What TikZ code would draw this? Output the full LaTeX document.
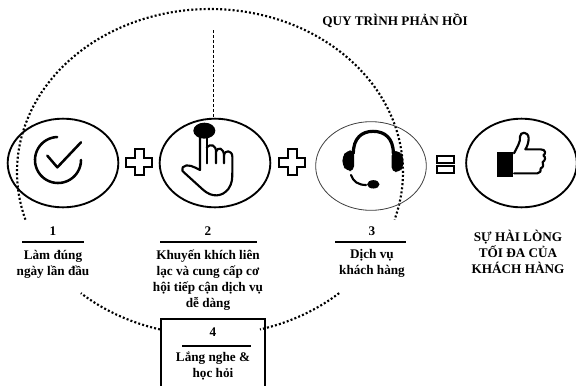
\documentclass[tikz,border=0pt]{standalone}
\usepackage{fontspec}
\setmainfont{Liberation Serif}
\usetikzlibrary{shapes.geometric}
\tikzset{
  x=0.75pt,y=-0.75pt,
  lab/.style={font=\bfseries\fontsize{9.9}{12}\selectfont,align=center,anchor=center,inner sep=0pt},
  rulel/.style={line width=1.5pt},
  oval/.style={draw,line width=1.4pt,ellipse,minimum width=83pt,minimum height=66.5pt,inner sep=0pt},
  thinoval/.style={draw=black!75,line width=0.6pt,ellipse,minimum width=83pt,minimum height=66.5pt,inner sep=0pt},
  dots/.style={line width=1.6pt,dash pattern=on 1.5pt off 1.6pt},
  icon/.style={line width=1.6pt,line cap=round,line join=round},
  sym/.style={line width=1.5pt,fill=white,line join=miter},
}
\newcommand{\zo}[2]{({#1/3},{90+#2/3})}
\newcommand{\zt}[2]{({290+#1/3},{90+#2/3})}
\begin{document}
\begin{tikzpicture}
\useasboundingbox (0,0) rectangle (576,386);
\fill[white] (0,0) rectangle (576,386);
% feedback loop
\draw[dots] plot[domain=163:377,samples=150] ({210+193*cos(\x)},{172+163*sin(\x)});
\draw[dots] plot[domain=105:132,samples=40] ({210+193*cos(\x)},{172+163*sin(\x)});
\draw[dots] plot[domain=48:75,samples=40] ({210+193*cos(\x)},{172+163*sin(\x)});
% ovals
\node[oval] (c1) at (63,163) {};
\node[oval] (c2) at (215,163) {};
\node[thinoval] (c3) at (371,166) {};
\node[oval] (c4) at (521.5,163) {};
\coordinate (dtop) at (213,30);
\draw[line width=0.55pt,dash pattern=on 2.2pt off 1.5pt] (dtop) -- (c2.north -| dtop);
% plus signs
\foreach \cx in {139,292}{
 \draw[sym,shift={(\cx,162)}] (-4.5,-13)--(4.5,-13)--(4.5,-4.5)--(13,-4.5)--(13,4.5)--(4.5,4.5)--(4.5,13)--(-4.5,13)--(-4.5,4.5)--(-13,4.5)--(-13,-4.5)--(-4.5,-4.5)--cycle;
}
% equals
\draw[sym] (437,156) rectangle (454,163);
\draw[sym] (437,166) rectangle (454,173);
% check icon
\draw[icon,line width=1.9pt] plot[domain=0:268,samples=60] ({58+23*cos(\x)},{160+23*sin(\x)});
\draw[icon,line width=1.9pt] \zo{142}{197} -- \zo{172}{232} -- \zo{243}{157};
% hand icon
\fill \zo{613}{122} ellipse [x radius=11,y radius=8];
\draw[icon] \zo{600}{140} -- \zo{600}{240} .. controls \zo{585}{232} and \zo{560}{218} .. \zo{548}{232} .. controls \zo{543}{240} and \zo{548}{245} .. \zo{555}{250} -- \zo{610}{300} .. controls \zo{635}{322} and \zo{665}{322} .. \zo{685}{297} .. controls \zo{697}{280} and \zo{697}{265} .. \zo{697}{245} -- \zo{697}{200} .. controls \zo{697}{180} and \zo{672}{178} .. \zo{672}{198} -- \zo{672}{220};
\draw[icon] \zo{620}{145} -- \zo{620}{220};
\draw[icon] \zo{620}{172} .. controls \zo{632}{160} and \zo{648}{165} .. \zo{648}{185} -- \zo{648}{220};
\draw[icon] \zo{648}{185} .. controls \zo{652}{170} and \zo{672}{172} .. \zo{672}{198};
% headset icon
\draw[icon,line width=2.4pt] \zt{190}{190} .. controls \zt{190}{145} and \zt{215}{124} .. \zt{249}{124} .. controls \zt{285}{124} and \zt{310}{145} .. \zt{310}{190};
\fill[rounded corners=3.5pt] \zt{192}{180} -- \zt{170}{182} -- \zt{157}{200} -- \zt{157}{225} -- \zt{170}{243} -- \zt{192}{243} -- cycle;
\fill[rounded corners=3.5pt] \zt{305}{183} -- \zt{330}{183} -- \zt{340}{200} -- \zt{340}{230} -- \zt{330}{246} -- \zt{305}{246} -- cycle;
\draw[icon] \zt{183}{255} .. controls \zt{190}{275} and \zt{205}{285} .. \zt{228}{285};
\fill \zt{250}{283} ellipse [x radius=6.2,y radius=4.2];
% thumb icon
\fill \zt{622}{185} rectangle \zt{668}{262};
\draw[icon,line join=round] \zt{672}{190} .. controls \zt{682}{170} and \zt{692}{155} .. \zt{690}{140} .. controls \zt{690}{125} and \zt{715}{122} .. \zt{716}{145} .. controls \zt{716}{155} and \zt{712}{170} .. \zt{706}{178} -- \zt{752}{178} .. controls \zt{768}{178} and \zt{768}{192} .. \zt{760}{196} .. controls \zt{768}{200} and \zt{766}{213} .. \zt{758}{216} .. controls \zt{762}{222} and \zt{760}{233} .. \zt{752}{235} .. controls \zt{755}{242} and \zt{750}{250} .. \zt{742}{250} -- \zt{672}{250};
% labels
\node[lab] (n1) at (53,231) {1};
\coordinate (r1a) at (22,242); \coordinate (r1b) at (84,242);
\draw[rulel] (r1a) -- (r1b);
\node[lab] (t1) at (53,264) {Làm đúng\\ngày lần đầu};
\node[lab] (n2) at (208,231) {2};
\coordinate (r2a) at (160,242); \coordinate (r2b) at (257,242);
\draw[rulel] (r2a) -- (r2b);
\node[lab] (t2) at (208,280.5) {Khuyến khích liên\\lạc và cung cấp cơ\\hội tiếp cận dịch vụ\\dễ dàng};
\node[lab] (n3) at (372,231) {3};
\coordinate (r3a) at (335,242); \coordinate (r3b) at (406,242);
\draw[rulel] (r3a) -- (r3b);
\node[lab] (t3) at (372,263) {Dịch vụ\\khách hàng};
\node[lab] (t5) at (518,252) {SỰ HÀI LÒNG\\TỐI ĐA CỦA\\KHÁCH HÀNG};
\node[lab,anchor=west] (title) at (322,21) {QUY TRÌNH PHẢN HỒI};
% box 4
\draw[line width=1.1pt] (161,386) -- (161,319) -- (265,319) -- (265,386);
\node[lab] (n4) at (213,332) {4};
\coordinate (r4a) at (182,346); \coordinate (r4b) at (251,346);
\draw[rulel] (r4a) -- (r4b);
\node[lab] (t4) at (213,366) {Lắng nghe \&\\học hỏi};
\end{tikzpicture}
\end{document}
